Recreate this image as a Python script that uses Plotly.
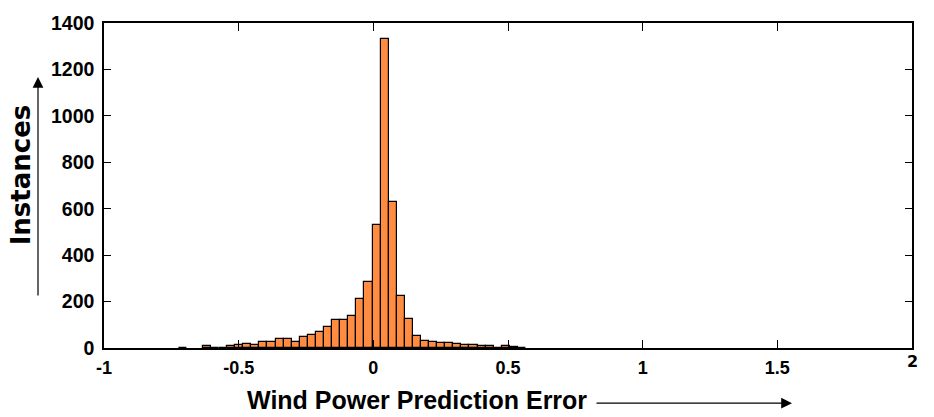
import numpy as np
import plotly.graph_objects as go

# Histogram data: 100 bins of width 0.03 starting at -0.993
bin_start = -0.993
bin_width = 0.03
counts = [
    0, 0, 0, 0, 0, 0, 0, 0, 0, 2,
    0, 0, 7, 1, 1, 10, 13, 19, 14, 24,
    24, 38, 40, 28, 46, 55, 70, 91, 119, 122,
    140, 210, 284, 532, 1329, 627, 225, 124, 51, 30,
    24, 21, 21, 17, 11, 11, 9, 7, 2, 8,
    3, 1, 0, 0, 0, 0, 0, 0, 0, 0,
    0, 0, 0, 0, 0, 0, 0, 0, 0, 0,
    0, 0, 0, 0, 0, 0, 0, 0, 0, 0,
    0, 0, 0, 0, 0, 0, 0, 0, 0, 0,
    0, 0, 0, 0, 0, 0, 0, 0, 0, 0,
]
x_tickvals = [-1, -0.5, 0, 0.5, 1, 1.5, 2]
x_ticktext = ["-1", "-0.5", "0", "0.5", "1", "1.5", ""]
y_tickvals = [0, 200, 400, 600, 800, 1000, 1200, 1400]
y_ticktext = ["0", "200", "400", "600", "800", "1000", "1200", "1400"]

centers = bin_start + bin_width * (np.arange(len(counts)) + 0.5)
bar_vals = [c if c > 0 else None for c in counts]

fig = go.Figure()
fig.add_trace(go.Bar(
    x=centers, y=bar_vals, width=bin_width,
    marker=dict(color="#FF8C40", line=dict(color="black", width=1.2)),
    showlegend=False,
))

tickfont_x = dict(family="Liberation Sans Narrow, Arial Narrow, Liberation Sans, Arial",
                  size=18, color="black", weight="bold")
tickfont_y = dict(family="Liberation Sans, Arial", size=19.5, color="black", weight="bold")

fig.update_layout(
    width=934, height=417,
    margin=dict(l=104, r=22, t=14, b=69),
    paper_bgcolor="white", plot_bgcolor="white",
    bargap=0,
    xaxis=dict(range=[-1, 2], tickvals=x_tickvals, ticktext=x_ticktext,
               showgrid=False, zeroline=False, showline=True, linecolor="black",
               linewidth=1.5, mirror="ticks", ticks="inside", ticklen=8,
               tickwidth=1, tickcolor="black", tickfont=tickfont_x,
               ticklabelstandoff=3),
    yaxis=dict(range=[0, 1400], tickvals=y_tickvals, ticktext=y_ticktext,
               showgrid=False, zeroline=False, showline=True, linecolor="black",
               linewidth=1.5, mirror="ticks", ticks="inside", ticklen=7,
               tickwidth=1, tickcolor="black", tickfont=tickfont_y,
               ticklabelstandoff=4),
)

# Odd right-end tick label "2"
fig.add_annotation(text="2", xref="paper", yref="paper",
                   x=(912 - 104) / 808, y=(348.3 - 362) / 333.8,
                   showarrow=False, xanchor="center", yanchor="middle",
                   font=dict(family="DejaVu Sans", size=16, color="black", weight="bold"))

# Axis titles
fig.add_annotation(text="Wind Power Prediction Error", xref="paper", yref="paper",
                   x=(417 - 104) / 808, y=(348.3 - 402) / 333.8,
                   showarrow=False, xanchor="center", yanchor="middle",
                   font=dict(family="Liberation Sans, Arial", size=25, color="black", weight="bold"))
fig.add_annotation(text="Instances", xref="paper", yref="paper",
                   x=(21 - 104) / 808, y=(348.3 - 171) / 333.8,
                   showarrow=False, xanchor="center", yanchor="middle", textangle=-90,
                   font=dict(family="DejaVu Sans", size=26, color="black", weight="bold"))

# Arrows
fig.add_annotation(text="", xref="paper", yref="paper",
                   x=(792 - 104) / 808, y=(348.3 - 405) / 333.8,
                   ax=-197, ay=0, showarrow=True, arrowhead=2, arrowsize=1.8,
                   arrowwidth=1.2, arrowcolor="black")
fig.add_annotation(text="", xref="paper", yref="paper",
                   x=(38 - 104) / 808, y=(348.3 - 70) / 333.8,
                   ax=0, ay=220, showarrow=True, arrowhead=2, arrowsize=1.8,
                   arrowwidth=1.2, arrowcolor="black")

fig.write_html("out.html")
